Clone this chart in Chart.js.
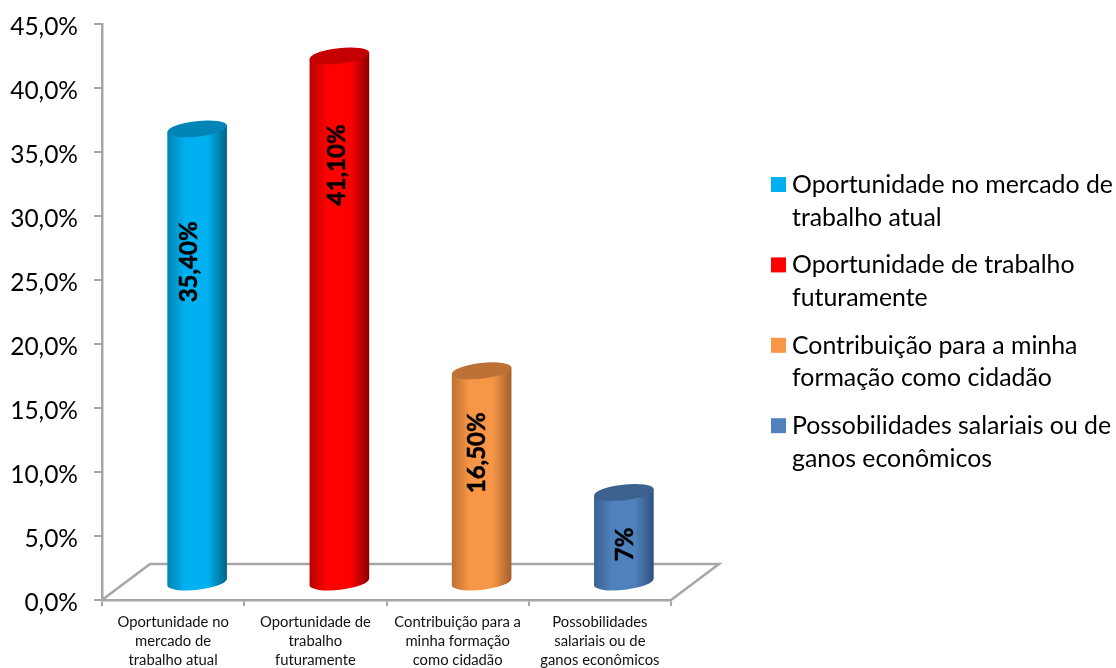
<!DOCTYPE html>
<html>
<head>
<meta charset="utf-8">
<script src="https://cdn.jsdelivr.net/npm/chart.js@4"></script>
<style>html,body{margin:0;padding:0;background:#fff}canvas{display:block}</style>
</head>
<body>
<canvas id="c" width="1116" height="668"></canvas>
<script>
const categories = [
  ['Oportunidade no', 'mercado de', 'trabalho atual'],
  ['Oportunidade de', 'trabalho', 'futuramente'],
  ['Contribuição para a', 'minha formação', 'como cidadão'],
  ['Possobilidades', 'salariais ou de', 'ganos econômicos']
];
const legendLabels = [
  ['Oportunidade no mercado de', 'trabalho atual'],
  ['Oportunidade de trabalho', 'futuramente'],
  ['Contribuição para a minha', 'formação como cidadão'],
  ['Possobilidades salariais ou de', 'ganos econômicos']
];
const values = [35.4, 41.1, 16.5, 7];
const valueLabels = ['35,40%', '41,10%', '16,50%', '7%'];
const colors = ['#00B0F0', '#FF0000', '#F79646', '#4F81BD'];
const edgeLeft = ['#0083b3', '#b80000', '#bb7135', '#3a6190'];
const edgeRight = ['#006385', '#8c0000', '#a56029', '#2f527e'];
const topColors = ['#0085b6', '#c40000', '#bc7136', '#3c618f'];

const FONT = 'Lato, Carlito, sans-serif';
const AXIS = '#a6a6a6';
const DX = 24, DY = -18;         // half depth of the 3-D floor
const RY = 7.8, TILT = -6.5 * Math.PI / 180;
const LABEL_LIFT = [133, 109, 82, 52];
const LABEL_SHIFT = [-8, -2, -4, 1];

const cylinders = {
  id: 'cylinders',
  afterLayout(chart) {
    // The value-axis labels sit slightly below their tick marks in the reference.
    const y = chart.scales.y;
    y._labelItems = y._computeLabelItems(chart.chartArea).map(item => {
      item.options.translation = [item.options.translation[0], item.options.translation[1] + 3.5];
      return item;
    });
  },
  beforeDatasetsDraw(chart) {
    const { ctx, scales: { x, y } } = chart;
    const y0 = y.getPixelForValue(0);
    ctx.save();
    ctx.strokeStyle = AXIS;
    ctx.lineWidth = 2.5;
    ctx.lineJoin = 'miter';
    ctx.beginPath();
    ctx.moveTo(x.left, y0);
    ctx.lineTo(x.left + 2 * DX, y0 + 2 * DY);
    ctx.lineTo(x.right + 2 * DX, y0 + 2 * DY);
    ctx.lineTo(x.right, y0);
    ctx.stroke();
    ctx.restore();
  },
  beforeDatasetDraw(chart, args) {
    const { ctx } = chart;
    args.meta.data.forEach((bar, i) => {
      const cx = bar.x + DX, rx = bar.width / 2;
      const topY = bar.y + DY, botY = bar.base + DY + 1;
      const dx = rx * Math.cos(TILT), dy = rx * Math.sin(TILT);
      const g = ctx.createLinearGradient(cx - dx, 0, cx + dx, 0);
      g.addColorStop(0, edgeLeft[i]);
      g.addColorStop(0.3, colors[i]);
      g.addColorStop(0.68, colors[i]);
      g.addColorStop(1, edgeRight[i]);
      ctx.save();
      ctx.fillStyle = g;
      ctx.beginPath();
      ctx.moveTo(cx + dx, topY + dy);
      ctx.lineTo(cx + dx, botY + dy);
      ctx.ellipse(cx, botY, rx, RY, TILT, 0, Math.PI);
      ctx.lineTo(cx - dx, topY - dy);
      ctx.closePath();
      ctx.fill();
      ctx.fillStyle = topColors[i];
      ctx.beginPath();
      ctx.ellipse(cx, topY, rx, RY, TILT, 0, Math.PI * 2);
      ctx.fill();
      ctx.restore();
    });
    return false;
  },
  afterDatasetsDraw(chart) {
    const { ctx } = chart;
    const meta = chart.getDatasetMeta(0);
    meta.data.forEach((bar, i) => {
      ctx.save();
      ctx.translate(bar.x + DX + LABEL_SHIFT[i], bar.y + DY + LABEL_LIFT[i]);
      ctx.rotate(-Math.PI / 2);
      ctx.fillStyle = '#000';
      ctx.strokeStyle = '#000';
      ctx.lineWidth = 0.5;
      ctx.font = 'bold 24px ' + FONT;
      ctx.textAlign = 'center';
      ctx.textBaseline = 'middle';
      ctx.strokeText(valueLabels[i], 0, 0);
      ctx.fillText(valueLabels[i], 0, 0);
      ctx.restore();
    });
  },
  afterDraw(chart) {
    const { ctx } = chart;
    ctx.save();
    legendLabels.forEach((lines, i) => {
      const top = 177 + i * 80.4;
      ctx.fillStyle = colors[i];
      ctx.fillRect(771, top, 15, 15);
      ctx.fillStyle = '#000';
      ctx.font = '24.85px ' + FONT;
      ctx.textAlign = 'left';
      ctx.textBaseline = 'alphabetic';
      lines.forEach((t, j) => ctx.fillText(t, 792, top + 16 + j * 32.5));
    });
    ctx.restore();
  }
};

new Chart(document.getElementById('c'), {
  type: 'bar',
  data: {
    labels: categories,
    datasets: [{
      label: 'Motivos',
      data: values,
      backgroundColor: colors,
      barPercentage: 60 / 142.25,
      categoryPercentage: 1
    }]
  },
  plugins: [cylinders],
  options: {
    responsive: false,
    animation: false,
    devicePixelRatio: 1,
    layout: { padding: { left: 0, right: 445, top: 24, bottom: 0 } },
    plugins: { legend: { display: false }, title: { display: false }, tooltip: { enabled: false } },
    scales: {
      x: {
        afterFit(s) { s.height = 68; s.paddingLeft = 0; s.paddingRight = 0; },
        border: { color: AXIS, width: 2.5 },
        grid: { drawOnChartArea: false, drawTicks: true, tickLength: 6, color: AXIS, lineWidth: 2, offset: true },
        ticks: {
          color: '#111', padding: 7, maxRotation: 0, autoSkip: false,
          font: { family: FONT, size: 14.8, lineHeight: 1.27 }
        }
      },
      y: {
        min: 0, max: 45,
        afterFit(s) { s.width = 102; s.paddingTop = 0; s.paddingBottom = 0; },
        border: { color: AXIS, width: 2.5 },
        grid: { drawOnChartArea: false, drawTicks: true, tickLength: 8, color: AXIS, lineWidth: 2 },
        ticks: {
          stepSize: 5, color: '#000', padding: 16,
          font: { family: FONT, size: 24.5 },
          callback: v => v.toFixed(1).replace('.', ',') + '%'
        }
      }
    }
  }
});
</script>
</body>
</html>
